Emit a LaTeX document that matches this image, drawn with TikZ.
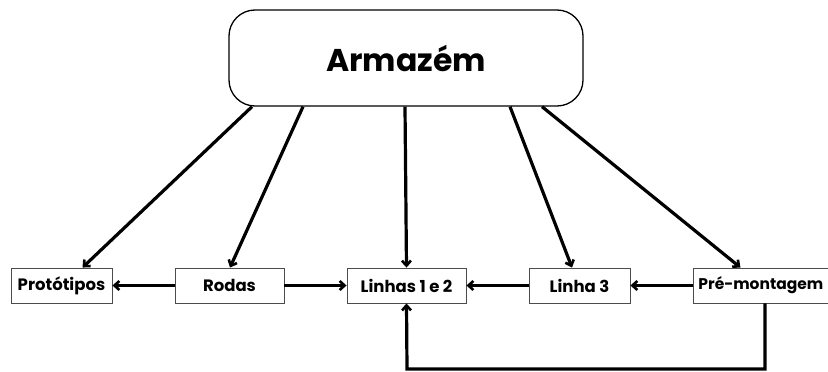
\documentclass[tikz,border=0pt]{standalone}
\usepackage{fontspec}
\setmainfont{Poppins}
\usetikzlibrary{arrows.meta}
\begin{document}
\begin{tikzpicture}[x=1pt,y=-1pt,
  stage/.style={draw=black!70,line width=0.9pt,fill=white,inner sep=0pt,
    font=\fontsize{16.5}{19}\selectfont\bfseries},
  flow/.style={line width=3.2pt,-{Straight Barb[length=5pt,width=9pt,line width=2.6pt]}}]
  \useasboundingbox (0,0) rectangle (828,372);
  % warehouse
  \node[draw,line width=1.3pt,rounded corners=26pt,minimum width=354pt,minimum height=96pt,
    font=\fontsize{31.5}{36}\selectfont\bfseries] (arm) at (406,58) {Armazém};
  % production stages
  \node[stage,minimum width=101pt,minimum height=35pt] (prot) at (61.5,285.5) {Protótipos};
  \node[stage,minimum width=109pt,minimum height=35pt] (rod) at (229.5,285.5) {Rodas};
  \node[stage,minimum width=119pt,minimum height=35pt] (lin) at (406.5,285.5) {Linhas 1 e 2};
  \node[stage,minimum width=101pt,minimum height=35pt] (l3) at (579.5,285.5) {Linha 3};
  \node[stage,minimum width=150pt,minimum height=35pt,anchor=west,inner xsep=5pt,align=left,text width=140pt,
    font=\fontsize{15.5}{19}\selectfont\bfseries] (pre) at (693,285.5) {Pré-montagem};
  % supply from the warehouse
  \draw[flow] ([xshift=-154pt]arm.south) -- ([xshift=21pt]prot.north);
  \draw[flow] ([xshift=-103pt]arm.south) -- ([xshift=0.5pt]rod.north);
  \draw[flow] ([xshift=-1pt]arm.south) -- (lin.north);
  \draw[flow] ([xshift=104pt]arm.south) -- ([xshift=-7.5pt]l3.north);
  \draw[flow] ([xshift=136pt]arm.south) -- ([xshift=-28pt]pre.north);
  % flows between stages
  \draw[flow] (rod.west) -- (prot.east);
  \draw[flow] (rod.east) -- (lin.west);
  \draw[flow] (l3.west) -- (lin.east);
  \draw[flow] (pre.west) -- (l3.east);
  \coordinate (c1) at (765,369);
  \coordinate (c2) at (407,369);
  \draw[flow] (pre.south -| c1) -- (c1) -- (c2) -- (lin.south);
\end{tikzpicture}
\end{document}
